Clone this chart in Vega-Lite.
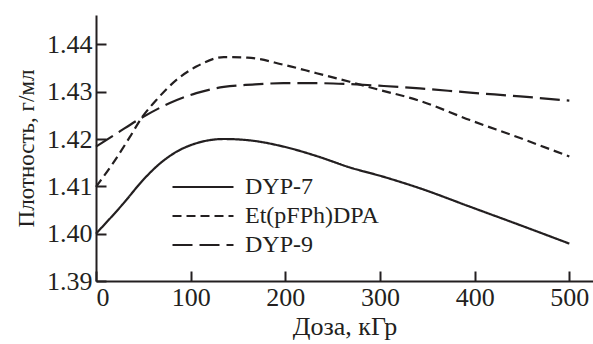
{
  "$schema": "https://vega.github.io/schema/vega-lite/v6.json",
  "width": 497,
  "height": 266,
  "autosize": {"type": "none"},
  "padding": {"left": 96, "top": 15, "right": 0, "bottom": 63},
  "background": "white",
  "config": {
    "view": {"stroke": null},
    "font": "Times New Roman",
    "axis": {
      "domainColor": "#231f20",
      "domainWidth": 2,
      "tickColor": "#231f20",
      "tickWidth": 2,
      "tickSize": -10,
      "grid": false,
      "labelFont": "Times New Roman",
      "labelFontSize": 26,
      "labelColor": "#231f20",
      "titleFont": "Times New Roman",
      "titleFontSize": 26,
      "titleFontWeight": "normal",
      "titleColor": "#231f20"
    },
    "legend": {
      "labelFont": "Times New Roman",
      "labelFontSize": 24,
      "labelColor": "#231f20"
    }
  },
  "data": {
    "values": [
      {"series": "DYP-7", "dose": 0, "density": 1.4000},
      {"series": "DYP-7", "dose": 29, "density": 1.4064},
      {"series": "DYP-7", "dose": 50, "density": 1.4114},
      {"series": "DYP-7", "dose": 68, "density": 1.4149},
      {"series": "DYP-7", "dose": 85, "density": 1.4173},
      {"series": "DYP-7", "dose": 106, "density": 1.4191},
      {"series": "DYP-7", "dose": 135, "density": 1.4200},
      {"series": "DYP-7", "dose": 163, "density": 1.4197},
      {"series": "DYP-7", "dose": 198, "density": 1.4184},
      {"series": "DYP-7", "dose": 233, "density": 1.4164},
      {"series": "DYP-7", "dose": 268, "density": 1.4140},
      {"series": "DYP-7", "dose": 304, "density": 1.4120},
      {"series": "DYP-7", "dose": 342, "density": 1.4096},
      {"series": "DYP-7", "dose": 395, "density": 1.4057},
      {"series": "DYP-7", "dose": 448, "density": 1.4018},
      {"series": "DYP-7", "dose": 500, "density": 1.3979},
      {"series": "Et(pFPh)DPA", "dose": 0, "density": 1.4099},
      {"series": "Et(pFPh)DPA", "dose": 18, "density": 1.4149},
      {"series": "Et(pFPh)DPA", "dose": 36, "density": 1.4205},
      {"series": "Et(pFPh)DPA", "dose": 48, "density": 1.4244},
      {"series": "Et(pFPh)DPA", "dose": 64, "density": 1.4283},
      {"series": "Et(pFPh)DPA", "dose": 85, "density": 1.4325},
      {"series": "Et(pFPh)DPA", "dose": 106, "density": 1.4353},
      {"series": "Et(pFPh)DPA", "dose": 135, "density": 1.4373},
      {"series": "Et(pFPh)DPA", "dose": 160, "density": 1.4372},
      {"series": "Et(pFPh)DPA", "dose": 198, "density": 1.4357},
      {"series": "Et(pFPh)DPA", "dose": 233, "density": 1.4339},
      {"series": "Et(pFPh)DPA", "dose": 268, "density": 1.4321},
      {"series": "Et(pFPh)DPA", "dose": 297, "density": 1.4305},
      {"series": "Et(pFPh)DPA", "dose": 340, "density": 1.4282},
      {"series": "Et(pFPh)DPA", "dose": 395, "density": 1.4240},
      {"series": "Et(pFPh)DPA", "dose": 448, "density": 1.4202},
      {"series": "Et(pFPh)DPA", "dose": 500, "density": 1.4163},
      {"series": "DYP-9", "dose": 0, "density": 1.4184},
      {"series": "DYP-9", "dose": 22, "density": 1.4212},
      {"series": "DYP-9", "dose": 50, "density": 1.4247},
      {"series": "DYP-9", "dose": 78, "density": 1.4276},
      {"series": "DYP-9", "dose": 106, "density": 1.4297},
      {"series": "DYP-9", "dose": 135, "density": 1.4310},
      {"series": "DYP-9", "dose": 165, "density": 1.4315},
      {"series": "DYP-9", "dose": 198, "density": 1.4318},
      {"series": "DYP-9", "dose": 233, "density": 1.4318},
      {"series": "DYP-9", "dose": 268, "density": 1.4316},
      {"series": "DYP-9", "dose": 304, "density": 1.4312},
      {"series": "DYP-9", "dose": 342, "density": 1.4307},
      {"series": "DYP-9", "dose": 395, "density": 1.4298},
      {"series": "DYP-9", "dose": 448, "density": 1.4290},
      {"series": "DYP-9", "dose": 500, "density": 1.4281}
    ]
  },
  "mark": {"type": "line", "interpolate": "monotone", "strokeWidth": 2.2, "color": "#231f20"},
  "encoding": {
    "x": {
      "field": "dose",
      "type": "quantitative",
      "scale": {"domain": [0, 525], "nice": false},
      "axis": {"values": [0, 100, 200, 300, 400, 500], "title": "Доза, кГр", "labelPadding": 13, "titlePadding": 3}
    },
    "y": {
      "field": "density",
      "type": "quantitative",
      "scale": {"domain": [1.39, 1.4462], "nice": false, "zero": false},
      "axis": {"values": [1.39, 1.40, 1.41, 1.42, 1.43, 1.44], "format": ".2f", "title": "Плотность, г/мл", "titleFontSize": 23, "labelPadding": 14, "titlePadding": 8}
    },
    "strokeDash": {
      "field": "series",
      "type": "nominal",
      "scale": {"domain": ["DYP-7", "Et(pFPh)DPA", "DYP-9"], "range": [[1, 0], [9, 5], [20, 7]]},
      "legend": {
        "title": null,
        "orient": "none",
        "legendX": 75,
        "legendY": 160,
        "padding": 0,
        "symbolType": "stroke",
        "symbolSize": 3721,
        "symbolStrokeWidth": 2.2,
        "symbolStrokeColor": "#231f20",
        "labelOffset": 10,
        "clipHeight": 24,
        "rowPadding": 5
      }
    }
  }
}
